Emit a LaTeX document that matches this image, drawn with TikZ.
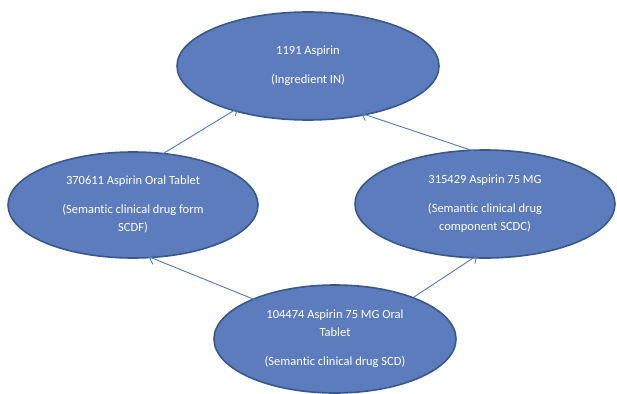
\documentclass[tikz,border=0pt]{standalone}
\usepackage{fontspec}
\setmainfont{Carlito}[Ligatures=NoCommon]
\usetikzlibrary{arrows.meta,shapes.geometric}
\definecolor{ovalfill}{RGB}{93,124,190}
\definecolor{ovalline}{RGB}{56,88,138}
\definecolor{arrline}{RGB}{80,122,190}
\begin{document}
\begin{tikzpicture}[x=1pt,y=-1pt,font=\fontsize{12.5}{18}\selectfont,oval/.style={ellipse,draw=ovalline,line width=1.6pt,fill=ovalfill,text=white,align=center,inner sep=0pt},arr/.style={-{Straight Barb[length=6pt,width=11pt]},draw=arrline,line width=0.9pt}]
\useasboundingbox (0,0) rectangle (617,393);
\node[oval,minimum width=262pt,minimum height=108pt] (in) at (308,66) {1191 Aspirin\\[11pt](Ingredient IN)};
\node[oval,minimum width=250pt,minimum height=106pt] (scdf) at (133,205) {370611 Aspirin Oral Tablet\\[11pt](Semantic clinical drug form\\SCDF)};
\node[oval,minimum width=260pt,minimum height=108pt] (scdc) at (485,204) {315429 Aspirin 75 MG\\[11pt](Semantic clinical drug\\component SCDC)};
\node[oval,minimum width=242pt,minimum height=108pt] (scd) at (335,339) {104474 Aspirin 75 MG Oral\\Tablet\\[11pt](Semantic clinical drug SCD)};
\draw[arr,shorten <=-8pt,shorten >=-6pt] (scdf.59.6)--(in.211.5);
\draw[arr,shorten <=-7pt,shorten >=-6pt] (scdc.106.4)--(in.320.8);
\draw[arr,shorten <=-11pt,shorten >=-4pt] (scd.154.1)--(scdf.290.3);
\draw[arr,shorten <=0pt,shorten >=-6pt] (scd.28.3)--(scdc.257.2);
\end{tikzpicture}
\end{document}
